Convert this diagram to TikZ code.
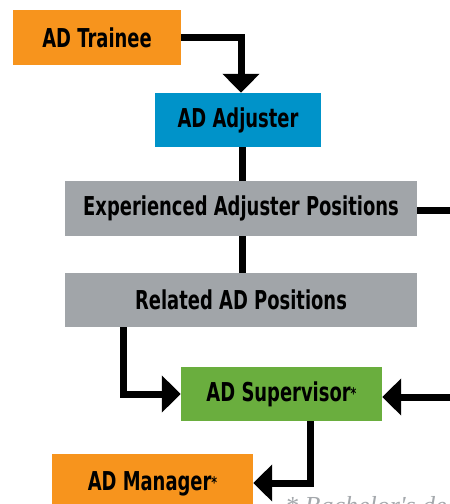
\documentclass[tikz,border=0pt]{standalone}
\usepackage{fontspec}
\usetikzlibrary{arrows.meta}
\newfontfamily\hf{DejaVu Sans}[UprightFont={* Bold},FakeStretch=0.69]
\newfontfamily\fnfont{Liberation Serif}[UprightFont={* Italic}]
\definecolor{cOrange}{HTML}{F7941D}
\definecolor{cBlue}{HTML}{0093C9}
\definecolor{cGray}{HTML}{A1A5A9}
\definecolor{cGreen}{HTML}{6AAE3E}
\definecolor{cNote}{HTML}{A4A8AC}
\tikzset{
  box/.style={rectangle, inner sep=0pt, text=black, font=\hf\fontsize{26}{28}\selectfont},
  conn/.style={line width=7pt, draw=black},
  arr/.style={conn, -{Triangle[width=36pt,length=19pt]}}
}
\begin{document}
\begin{tikzpicture}[x=1pt,y=-1pt]
\useasboundingbox (0,0) rectangle (450,504);
\begin{scope}
\clip (0,0) rectangle (450,504);
\node[box, fill=cOrange, minimum width=168pt, minimum height=55pt] (trainee) at (97,37.5) {AD Trainee};
\node[box, fill=cBlue, minimum width=166pt, minimum height=54pt] (adjuster) at (238,120) {AD Adjuster};
\node[box, fill=cGray, minimum width=352pt, minimum height=55pt] (exp) at (241,208.5) {Experienced Adjuster Positions};
\node[box, fill=cGray, minimum width=352pt, minimum height=54pt] (rel) at (241,300) {Related AD Positions};
\node[box, fill=cGreen, minimum width=201pt, minimum height=54pt] (sup) at (281.5,394) {AD Supervisor\raisebox{2pt}{\fontsize{16}{16}\selectfont*}};
\node[box, fill=cOrange, minimum width=201pt, minimum height=60pt] (mgr) at (152.5,484) {AD Manager\raisebox{2pt}{\fontsize{16}{16}\selectfont*}};
\coordinate (vmain) at (242,0);
\coordinate (vrel) at (123,0);
\coordinate (vsup) at (310,0);
\coordinate (expout) at (450,210);
\coordinate (supin) at (450,397);
\coordinate (mgrin) at (0,483);
\draw[arr] (trainee.east) -| ([xshift=3pt]adjuster.north);
\draw[conn] (vmain |- adjuster.south) -- (vmain |- exp.north);
\draw[conn] (vmain |- exp.south) -- (vmain |- rel.north);
\draw[conn] (expout -| exp.east) -- (expout);
\draw[arr] (vrel |- rel.south) |- (sup.west);
\draw[arr] (supin) -- (supin -| sup.east);
\draw[arr] (vsup |- sup.south) |- (mgrin -| mgr.east);
\node[anchor=base west, inner sep=0pt, text=cNote, font=\fnfont\fontsize{26}{28}\selectfont] (note) at (285,514) {* Bachelor's degree};
\end{scope}
\end{tikzpicture}
\end{document}
